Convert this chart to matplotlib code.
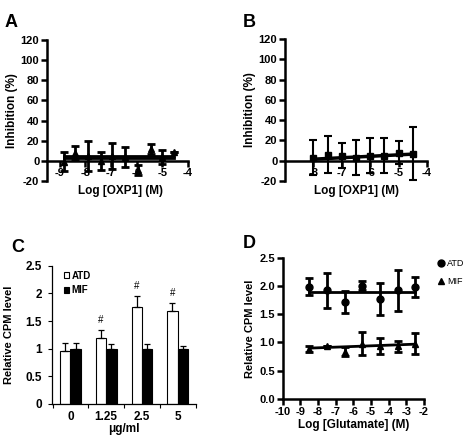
import numpy as np
import matplotlib.pyplot as plt

plt.rcParams['font.family'] = ['Liberation Sans', 'DejaVu Sans']
plt.rcParams['font.weight'] = 'bold'
plt.rcParams['axes.labelweight'] = 'bold'
plt.rcParams['axes.unicode_minus'] = False

# panel A: OXP1 inhibition, two series (alternating doses)
a_x1 = [-8.85, -7.9, -6.95, -5.95, -5.0]
a_y1 = [-1, 5, 5, -9, 3.5]
a_e1 = [9.5, 15, 13, 5, 7]
a_x2 = [-8.4, -7.4, -6.45, -5.45, -4.55]
a_y2 = [8, 0, 4, 12, 9]
a_e2 = [7, 9, 10, 5, 0]
a_fit1 = [2.5, 2.5]
a_fit2 = [5, 5]

# panel B: OXP1 inhibition
b_x = [-8, -7.5, -7, -6.5, -6, -5.5, -5, -4.5]
b_y = [3, 6, 5, 3, 5, 5, 8, 7]
b_e = [17, 18.5, 12, 17.5, 17, 17, 11, 26.5]
b_fit = [1.5, 6.5]

# panel C: bars
c_labels = ['0', '1.25', '2.5', '5']
c_atd = [0.96, 1.2, 1.76, 1.69]
c_atd_err = [0.14, 0.14, 0.2, 0.13]
c_mif = [1.0, 1.0, 1.0, 1.0]
c_mif_err = [0.1, 0.085, 0.08, 0.04]
c_sig = ['', '#', '#', '#']

# panel D: glutamate
d_x = [-8.5, -7.5, -6.5, -5.5, -4.5, -3.5, -2.5]
d_atd = [1.99, 1.92, 1.72, 2.0, 1.77, 1.92, 1.98]
d_atd_err = [0.15, 0.31, 0.19, 0.08, 0.29, 0.37, 0.18]
d_mif = [0.89, 0.94, 0.84, 0.98, 0.94, 0.93, 0.98]
d_mif_err = [0.05, 0.0, 0.08, 0.2, 0.14, 0.1, 0.19]
d_fit_atd = [1.90, 1.90]
d_fit_mif = [0.90, 0.97]

W, H = 472, 437
fig = plt.figure(figsize=(W / 100, H / 100), dpi=100)


def box(l, t, r, b):
    # pixel box -> figure coords
    return [l / W, 1 - b / H, (r - l) / W, (b - t) / H]


def prism(ax, lw=1.8):
    for s in ['top', 'right']:
        ax.spines[s].set_visible(False)
    for s in ['left', 'bottom']:
        ax.spines[s].set_linewidth(lw)
    ax.tick_params(width=lw, length=4, labelsize=8, pad=1.5)


eb = dict(color='black', capsize=3, elinewidth=2, capthick=2, ms=5, ls='none')

# ---- A
axA = fig.add_axes(box(47, 40, 188, 181))
prism(axA)
axA.errorbar(a_x1, a_y1, yerr=a_e1, fmt='^', **eb)
axA.errorbar(a_x2, a_y2, yerr=a_e2, fmt='^', **eb)
axA.plot([a_x1[0], a_x2[-1]], a_fit1, color='black', lw=2)
axA.plot([a_x1[0], a_x2[-1]], a_fit2, color='black', lw=2)
axA.set_xlim(-9.5, -4)
axA.set_ylim(-20, 120)
axA.set_yticks(range(-20, 121, 20))
axA.set_xticks([-9, -8, -7, -6, -5, -4])
axA.spines['bottom'].set_position(('data', 0))
axA.set_ylabel('Inhibition (%)', fontsize=8.5, labelpad=2)
axA.set_xlabel('Log [OXP1] (M)', fontsize=8.5)
axA.xaxis.set_label_coords(0.52, -0.03)

# ---- B
axB = fig.add_axes(box(285, 39, 427, 181))
prism(axB)
axB.errorbar(b_x, b_y, yerr=b_e, fmt='s', color='black', capsize=3,
             elinewidth=1.5, capthick=1.5, ms=5, ls='none')
axB.plot([b_x[0], b_x[-1]], b_fit, color='black', lw=2.5)
axB.set_xlim(-9, -4)
axB.set_ylim(-20, 120)
axB.set_yticks(range(-20, 121, 20))
axB.set_xticks([-8, -7, -6, -5, -4])
axB.spines['bottom'].set_position(('data', 0))
axB.set_ylabel('Inhibition (%)', fontsize=8.5, labelpad=2)
axB.set_xlabel('Log [OXP1] (M)', fontsize=8.5)
axB.xaxis.set_label_coords(0.5, -0.03)

# ---- C
axC = fig.add_axes(box(51.5, 265.7, 195.5, 404))
for s in ['top', 'right']:
    axC.spines[s].set_visible(False)
for s in ['left', 'bottom']:
    axC.spines[s].set_linewidth(0.9)
xc = np.arange(len(c_labels))
w = 0.29
axC.bar(xc - w / 2, c_atd, w, color='white', edgecolor='black', lw=0.8, label='ATD',
        yerr=[[0] * 4, c_atd_err], error_kw=dict(ecolor='black', elinewidth=0.9, capsize=2.5, capthick=0.9))
axC.bar(xc + w / 2, c_mif, w, color='black', edgecolor='black', lw=0.8, label='MIF',
        yerr=[[0] * 4, c_mif_err], error_kw=dict(ecolor='black', elinewidth=0.9, capsize=2.5, capthick=0.9))
for i, s in enumerate(c_sig):
    if s:
        axC.text(xc[i] - w / 2, c_atd[i] + c_atd_err[i] + 0.18, s, ha='center', va='center',
                 fontsize=7, fontweight='normal')
axC.set_xlim(-0.53, 3.5)
axC.set_ylim(0, 2.5)
axC.set_yticks([0, 0.5, 1, 1.5, 2, 2.5])
axC.set_yticklabels(['0', '0.5', '1', '1.5', '2', '2.5'])
axC.set_xticks(xc)
axC.set_xticklabels(c_labels)
axC.set_xticks([-0.5, 0.5, 1.5, 2.5, 3.5], minor=True)
axC.tick_params(axis='x', which='major', length=0, labelsize=8.5, pad=5)
axC.tick_params(axis='x', which='minor', length=3, width=0.8)
axC.tick_params(axis='y', length=3, width=0.8, labelsize=8.5, pad=4)
axC.set_ylabel('Relative CPM level', fontsize=8, labelpad=8)
axC.set_xlabel('\u03bcg/ml', fontsize=8.5, labelpad=0)
axC.legend(loc='upper left', bbox_to_anchor=(0.05, 1.0), frameon=False, fontsize=7,
           handlelength=0.6, handleheight=0.6, handletextpad=0.2, labelspacing=0.5, borderpad=0)

# ---- D
axD = fig.add_axes(box(282.7, 257.7, 424, 399))
prism(axD)
hA = axD.errorbar(d_x, d_atd, yerr=d_atd_err, fmt='o', label='ATD', **eb)
hM = axD.errorbar(d_x, d_mif, yerr=d_mif_err, fmt='^', label='MIF', **eb)
axD.plot([d_x[0], d_x[-1]], d_fit_atd, color='black', lw=2)
axD.plot([d_x[0], d_x[-1]], d_fit_mif, color='black', lw=2)
axD.set_xlim(-10, -2)
axD.set_ylim(0, 2.5)
axD.set_xticks(range(-10, -1))
axD.set_yticks([0, 0.5, 1, 1.5, 2, 2.5])
axD.set_yticklabels(['0.0', '0.5', '1.0', '1.5', '2.0', '2.5'])
axD.set_ylabel('Relative CPM level', fontsize=8, labelpad=3)
axD.set_xlabel('Log [Glutamate] (M)', fontsize=8.5, labelpad=2)
axD.legend(handles=[hA[0], hM[0]], labels=['ATD', 'MIF'], loc='upper left',
           bbox_to_anchor=(1.06, 1.02), frameon=False,
           prop={'size': 6.5, 'weight': 'normal'}, handlelength=0.8, handletextpad=0.3,
           labelspacing=1.0, borderpad=0)

# panel letters
for lab, x, y in [('A', 5, 27), ('B', 243, 27), ('C', 11, 252), ('D', 243, 248)]:
    fig.text(x / W, 1 - y / H, lab, fontsize=13, fontweight='bold', va='baseline')

fig.savefig('out.png', dpi=100)
